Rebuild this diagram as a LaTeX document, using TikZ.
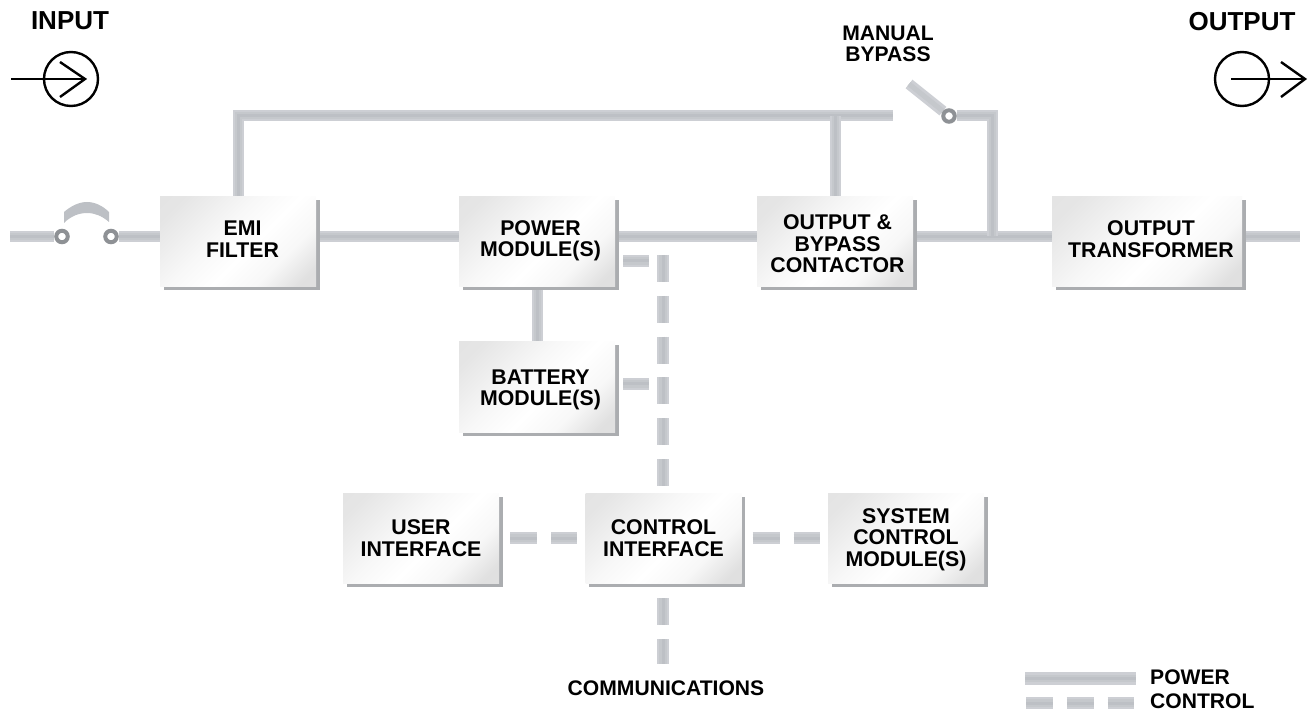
\documentclass[tikz,border=0pt]{standalone}
\usepackage{fontspec}
\setmainfont{Liberation Sans}
\usetikzlibrary{backgrounds, shadows}
\definecolor{wireedge}{HTML}{CDCFD4}
\definecolor{wiremid}{HTML}{C5C8CC}
\definecolor{wirecore}{HTML}{BDC0C5}
\definecolor{ringgray}{HTML}{8E9195}
\definecolor{boxshadow}{HTML}{ABADB0}
\pgfdeclarehorizontalshading{boxfade}{100bp}{color(0bp)=(white!88!black); color(22bp)=(white!90!black);
	color(42bp)=(white!97!black); color(55bp)=(white); color(68bp)=(white!97!black); color(80bp)=(white!88!black); color(100bp)=(white!87!black)}
\newcommand{\padlow}[1]{\rule[-#1pt]{0pt}{0pt}}
\newcommand{\padtop}[1]{\rule{0pt}{#1pt}}
\newcommand{\nudge}[1]{\hspace*{#1pt}}
\tikzset{
	block/.style={minimum width=156pt, minimum height=90pt, inner sep=0pt, align=center,
		shade, shading=boxfade, shading angle=-45,
		drop shadow={shadow xshift=3.5pt, shadow yshift=-3.5pt, fill=boxshadow, opacity=1},
		font=\fontsize{21.3}{21.5}\selectfont\bfseries},
	wire/.style={line width=11pt, draw=wireedge,
		postaction={draw=wiremid, line width=7pt},
		postaction={draw=wirecore, line width=3pt}},
	ctrl/.style={line width=12pt, draw=wireedge, dash pattern=on 27pt off 13.8pt,
		postaction={draw=wiremid, line width=8pt},
		postaction={draw=wirecore, line width=3pt}},
	blade/.style={line width=11pt, draw=wireedge, postaction={draw=wiremid, line width=5pt}},
	ring/.style={circle, draw=ringgray, line width=4pt, fill=white, minimum size=11.5pt, inner sep=0pt},
	symbol/.style={line width=2.4pt},
	caption/.style={font=\fontsize{21.1}{21.5}\selectfont\bfseries, align=center, inner sep=0pt},
	bigcaption/.style={caption, font=\fontsize{26}{26}\selectfont\bfseries}
}
\begin{document}
\begin{tikzpicture}[x=1pt, y=-1pt]
	\useasboundingbox (0,0) rectangle (1310,711);

	% boxes
	\node[block] (emi) at (238,242) {\nudge{9}EMI\\\nudge{9}FILTER\padlow{6}};
	\node[block] (pmod) at (537,242) {\nudge{7}POWER\\\nudge{7}MODULE(S)\padlow{6.5}};
	\node[block] (contactor) at (835,242) {\padtop{18.5}\nudge{5}OUTPUT \&\\\nudge{5}BYPASS\\\nudge{5}CONTACTOR};
	\node[block, minimum width=190pt] (xfmr) at (1147,242) {\nudge{8}OUTPUT\\\nudge{8}TRANSFORMER\padlow{6}};
	\node[block] (batt) at (537,387) {\padtop{20.5}\nudge{7}BATTERY\\\nudge{7}MODULE(S)};
	\node[block] (uif) at (421,538) {USER\\INTERFACE};
	\node[block] (cif) at (663.5,538) {CONTROL\\INTERFACE};
	\node[block] (sysmod) at (906,538) {\padtop{17.5}SYSTEM\\CONTROL\\MODULE(S)};

	% breaker and switch
	\node[ring] (brkA) at (62,236.5) {};
	\node[ring] (brkB) at (111,236.5) {};
	\node[ring] (swPivot) at (949,116) {};
	\coordinate (lineIn) at (10,236.5);
	\coordinate (lineOut) at (1300,236.5);
	\coordinate (bypEnd) at (893,116);
	\coordinate (swTip) at (909,84);
	\coordinate (tap) at (992.5,236.5);
	\coordinate (busTop) at (663,255);
	\coordinate (busEnd) at (663,664);
	\coordinate (stubA) at (649,261);
	\coordinate (stubB) at (649,384);

	\begin{pgfonlayer}{background}
		\draw[wire] (lineIn) -- (brkA);
		\draw[wire] (brkB) -- (emi.west |- brkB);
		\draw[wire] (emi.east |- brkB) -- (pmod.west |- brkB);
		\draw[wire] (pmod.east |- brkB) -- (contactor.west |- brkB);
		\draw[wire] (contactor.east |- brkB) -- (xfmr.west |- brkB);
		\draw[wire] (xfmr.east |- brkB) -- (lineOut);
		\draw[wire] (emi.north) |- (bypEnd);
		\draw[wire] (contactor.north) -- (contactor.north |- bypEnd);
		\draw[wire] (swPivot) -| (tap);
		\draw[wire] (pmod.south) -- (batt.north);
		\draw[blade] (swPivot) -- (swTip);
		\draw[ctrl] (busTop) -- (busTop |- cif.north);
		\draw[ctrl, shorten <=15pt] (busTop |- cif.south) -- (busEnd);
		\draw[ctrl, shorten <=8pt] (pmod.east |- stubA) -- (stubA);
		\draw[ctrl, shorten <=8pt] (batt.east |- stubB) -- (stubB);
		\draw[ctrl, shorten <=11pt, shorten >=8pt] (uif.east) -- (cif.west);
		\draw[ctrl, shorten <=11pt, shorten >=8pt] (cif.east) -- (sysmod.west);
	\end{pgfonlayer}

	% breaker arc
	\shade[left color=wirecore, middle color=wireedge!25, right color=wirecore]
		(64,223) -- (64,212) .. controls (71,206) and (79,202) .. (87,202)
		.. controls (95,202) and (103,206) .. (109,212)
		-- (109,222) .. controls (102,216) and (95,213) .. (87,213)
		.. controls (79,213) and (71,216) .. (64,223) -- cycle;

	% input and output symbols
	\node[bigcaption] (inLabel) at (70,21) {INPUT};
	\node[bigcaption] (outLabel) at (1242,22) {OUTPUT};
	\node[circle, symbol, draw, minimum size=54pt] (inCirc) at (71,79) {};
	\node[circle, symbol, draw, minimum size=54pt] (outCirc) at (1242,79) {};
	\coordinate (inTail) at (11,79);
	\coordinate (inTip) at (85,79);
	\coordinate (outTail) at (1231,79);
	\coordinate (outTip) at (1305,79);
	\draw[symbol] (inTail) -- (inTip);
	\draw[symbol] (60,62) -- (inTip) -- (60,97);
	\draw[symbol] (outTail) -- (outTip);
	\draw[symbol] (1281,62) -- (outTip) -- (1281,97);

	% labels
	\node[caption] (bypLabel) at (888,44) {MANUAL\\BYPASS};
	\node[caption] (commLabel) at (666,688) {COMMUNICATIONS};

	% legend
	\node[caption, anchor=west] (legPower) at (1150,677) {POWER};
	\node[caption, anchor=west] (legControl) at (1150,701) {CONTROL};
	\coordinate (legA) at (1025,678);
	\coordinate (legB) at (1026,703);
	\draw[wire, line width=13pt] (legA) -- ++(111,0);
	\draw[ctrl] (legB) -- ++(108,0);
\end{tikzpicture}
\end{document}
